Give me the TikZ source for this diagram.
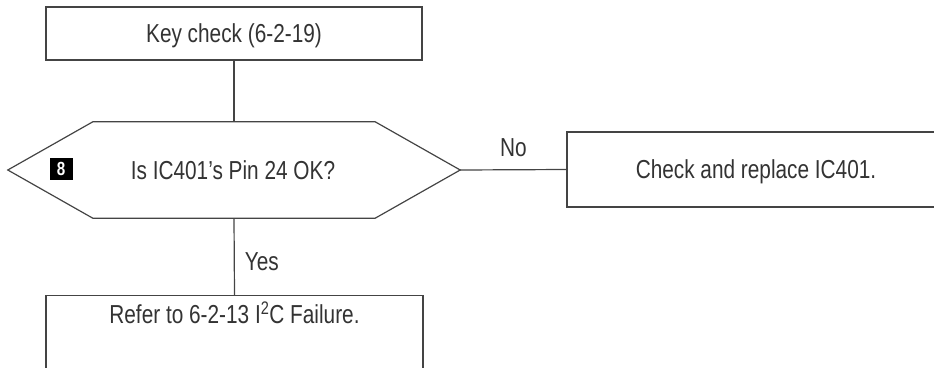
\documentclass[tikz,border=0pt]{standalone}
\usepackage{fontspec}
\setmainfont{Liberation Sans}[FakeStretch=0.80]
\usetikzlibrary{calc}
\definecolor{ink}{HTML}{333333}
\definecolor{rule}{HTML}{444444}
\begin{document}
\begin{tikzpicture}[x=1pt,y=-1pt,
  every node/.style={font=\fontsize{26}{30}\selectfont, text=ink, text depth=0pt},
  box/.style={draw=rule, line width=1.2pt, rectangle, inner sep=0pt},
  link/.style={draw=rule, line width=1.2pt},
  badge/.style={fill=black, text=white, inner sep=0pt, minimum width=23pt, minimum height=22pt,
    font=\fontsize{19}{19}\selectfont\bfseries}]
  \useasboundingbox (0,0) rectangle (934,367);
  \clip (0,0) rectangle (934,367);

  % start box
  \node[box, minimum width=376pt, minimum height=53pt] (start) at (234,33.5) {Key check (6-2-19)};

  % decision hexagon
  \node[minimum width=452pt, minimum height=96pt, inner sep=0pt] (dec) at (234,170) {};
  \coordinate (dnw) at ($(dec.north west)+(85,0)$);
  \coordinate (dne) at ($(dec.north east)+(-85,0)$);
  \coordinate (dse) at ($(dec.south east)+(-85,0)$);
  \coordinate (dsw) at ($(dec.south west)+(85,0)$);
  \draw[link] (dec.west) -- (dnw) -- (dne) -- (dec.east) -- (dse) -- (dsw) -- cycle;
  \node (dectxt) at (233,170) {Is IC401’s Pin 24 OK?};
  \node[badge] (num) at (61,169) {8};

  % no branch
  \node[box, minimum width=378pt, minimum height=75pt] (fix) at (756,169.5) {Check and replace IC401.};
  \draw[link] (dec.east) -- (fix.west) node[midway, above=13pt, inner sep=0pt] (no) {No};

  % yes branch
  \node[box, minimum width=377pt, minimum height=100pt, anchor=north] (refer) at (234.5,295) {};
  \node (refertxt) at (234.5,313) {Refer to 6-2-13 I\textsuperscript{2}C Failure.};
  \draw[link] (dec.south) -- (refer.north) node[pos=0.57, right=10pt, inner sep=0pt] (yes) {Yes};

  % start to decision
  \draw[link] (start.south) -- (dec.north);
\end{tikzpicture}
\end{document}
